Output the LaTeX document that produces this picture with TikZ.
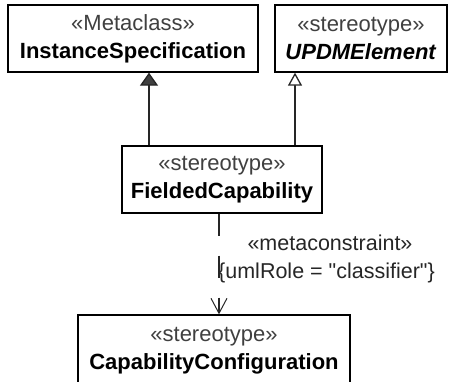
\documentclass[tikz,border=0pt]{standalone}
\usepackage{fontspec}
\setmainfont{Liberation Sans}
\usetikzlibrary{arrows.meta}
\newcommand{\sq}{\XeTeXglyph\XeTeXcharglyph"22\relax}
\begin{document}
\begin{tikzpicture}[x=1pt,y=-1pt,
  cls/.style={draw=black, line width=1.3pt, fill=white, minimum height=67pt, inner sep=0pt, align=center, font=\fontsize{22}{28}\selectfont},
  conn/.style={draw=black!85, line width=1.3pt},
  ext/.style={conn, -{Triangle[width=18pt,length=13pt,fill=black!75]}},
  gen/.style={conn, -{Triangle[open,width=14pt,length=13pt,fill=white]}},
  dep/.style={conn, dash pattern=on 22pt off 20pt, -{Straight Barb[width=16pt,length=15pt,line width=1pt]}},
  lbl/.style={font=\fontsize{21.5}{26}\selectfont, inner sep=0pt, text=black!85}
]
\useasboundingbox (0,0) rectangle (452,381);
\clip (0,0) rectangle (452,381);
\node[cls, minimum width=250pt] (A) at (133,38.5) {\textcolor{black!75}{«Metaclass»}\\\textbf{InstanceSpecification}};
\node[cls, minimum width=172pt] (B) at (361,38.5) {\textcolor{black!75}{«stereotype»}\\\textbf{\textit{UPDMElement}}};
\node[cls, minimum width=200pt] (C) at (222,179.5) {\textcolor{black!75}{«stereotype»}\\\textbf{FieldedCapability}};
\node[cls, minimum width=272pt, minimum height=72pt] (D) at (214,351) {\textcolor{black!75}{«stereotype»}\\\textbf{CapabilityConfiguration}};
\coordinate (xa) at (149,0);
\coordinate (xb) at (295,0);
\coordinate (xc) at (219,0);
\draw[ext] (xa |- C.north) -- (xa |- A.south);
\draw[gen] (xb |- C.north) -- (xb |- B.south);
\draw[dep] (xc |- C.south) -- (xc |- D.north);
\node[lbl, anchor=base] (m) at (330,250) {«metaconstraint»};
\node[lbl, anchor=base west] (r) at (218,278) {\{umlRole = \sq classifier\sq\}};
\end{tikzpicture}
\end{document}
